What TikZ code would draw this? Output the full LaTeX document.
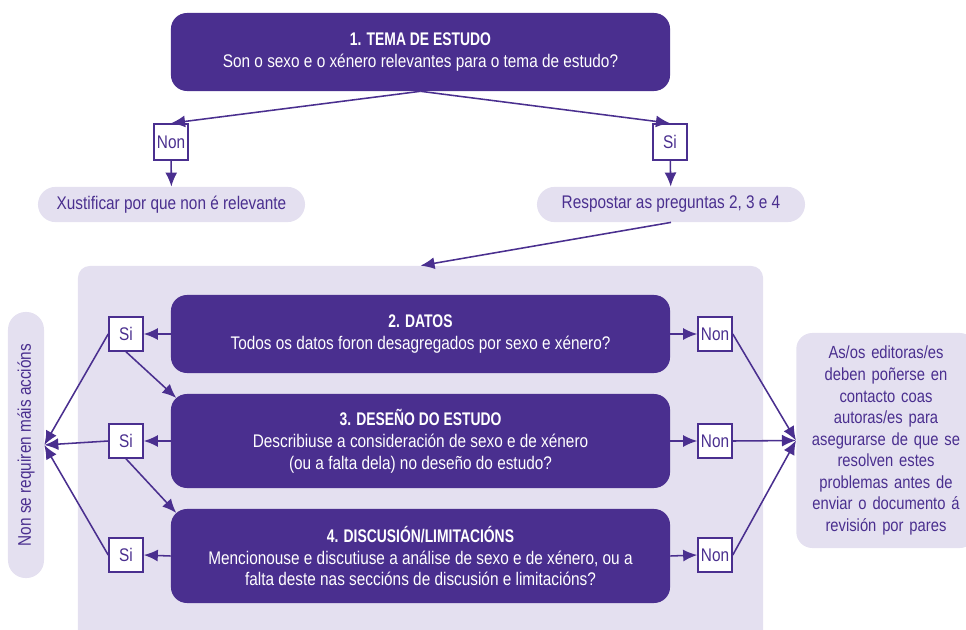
\documentclass[tikz,border=0pt]{standalone}
\usepackage{fontspec}
\setmainfont[FakeStretch=0.84,BoldFeatures={FakeStretch=0.76}]{Liberation Sans}
\usetikzlibrary{positioning,arrows.meta}

\definecolor{deep}{RGB}{74,47,143}
\definecolor{lilac}{RGB}{228,224,240}

\tikzset{
  question/.style={fill=deep, text=white, rounded corners=0.4cm,
    minimum width=12.475cm, align=center},
  answer/.style={draw=deep, line width=1.1pt, fill=white, text=deep,
    minimum width=0.85cm, minimum height=0.85cm, inner sep=1pt},
  pill/.style={fill=lilac, text=deep, rounded corners=0.44cm,
    minimum height=0.88cm},
  panel/.style={fill=lilac, rounded corners=0.3cm},
  link/.style={draw=deep, line width=1.1pt, ->},
}

\begin{document}
\begin{tikzpicture}[x=0.025cm,y=-0.025cm,>={Latex[length=10pt,width=8.5pt]},
  font=\fontsize{13}{15.5}\selectfont]
\useasboundingbox (0,0) rectangle (966,630);

% background panel behind questions 2-4
\node[panel,minimum width=17.125cm,minimum height=9.475cm] (Panel) at (420.5,455.5) {};

\node[question,minimum height=1.95cm] (Q1) at (420.5,52)
  {\textbf{1. TEMA DE ESTUDO}\\Son o sexo e o xénero relevantes para o tema de estudo?};

\node[answer,minimum height=0.9cm] (Q1No) at (171,142) {Non};
\node[answer,minimum height=0.9cm] (Q1Yes) at (670,142) {Si};

\node[pill,minimum width=6.675cm] (Justify) at (171.5,204.5) {Xustificar por que non é relevante};
\node[pill,minimum width=6.7cm] (Answer) at (671,204.5) {Respostar as preguntas 2, 3 e 4};

\node[question,minimum height=1.95cm] (Q2) at (420.5,334)
  {\textbf{2. DATOS}\\Todos os datos foron desagregados por sexo e xénero?};
\node[question,minimum height=2.35cm] (Q3) at (420.5,441)
  {\textbf{3. DESEÑO DO ESTUDO}\\Describiuse a consideración de sexo e de xénero\\(ou a falta dela) no deseño do estudo?};
\node[question,minimum height=2.35cm] (Q4) at (420.5,556)
  {\textbf{4. DISCUSIÓN/LIMITACIÓNS}\\Mencionouse e discutiuse a análise de sexo e de xénero, ou a\\falta deste nas seccións de discusión e limitacións?};

\node[answer] (Q2Yes) at (126,334) {Si};
\node[answer] (Q3Yes) at (126,441) {Si};
\node[answer] (Q4Yes) at (126,555) {Si};
\node[answer] (Q2No) at (715,334) {Non};
\node[answer] (Q3No) at (715,441) {Non};
\node[answer] (Q4No) at (715,555) {Non};

\node[pill,rotate=90,minimum width=6.65cm,minimum height=0.9cm] (Done) at (26,445) {Non se requiren máis accións};
\node[panel,rounded corners=0.4cm,minimum width=4.45cm,minimum height=5.375cm,
  text=deep,text width=4.25cm,align=center,
  font=\fontsize{12.5}{15.3}\selectfont] (Editors) at (886,440.5)
  {As/os editoras/es\\deben poñerse en\\contacto coas\\autoras/es para\\asegurarse de que se\\resolven estes\\problemas antes de\\enviar o documento á\\revisión por pares};

\draw[link] (Q1.south) -- (Q1No.north);
\draw[link] (Q1.south) -- (Q1Yes.north);
\draw[link] (Q1No) -- (Justify);
\draw[link] (Q1Yes) -- (Answer);
\draw[link] (Answer.south) -- (Panel.north);

\foreach \q in {Q2,Q3,Q4}{
  \draw[link] (\q.west) -- (\q Yes.east);
  \draw[link] (\q.east) -- (\q No.west);
  \draw[link] (\q Yes.west) -- (Done.south);
  \draw[link] (\q No.east) -- (Editors.west);
}
\draw[link] (Q2Yes.south) -- ([xshift=4pt,yshift=-3pt]Q3.north west);
\draw[link] (Q3Yes.south) -- ([xshift=4pt,yshift=-3pt]Q4.north west);
\end{tikzpicture}
\end{document}
